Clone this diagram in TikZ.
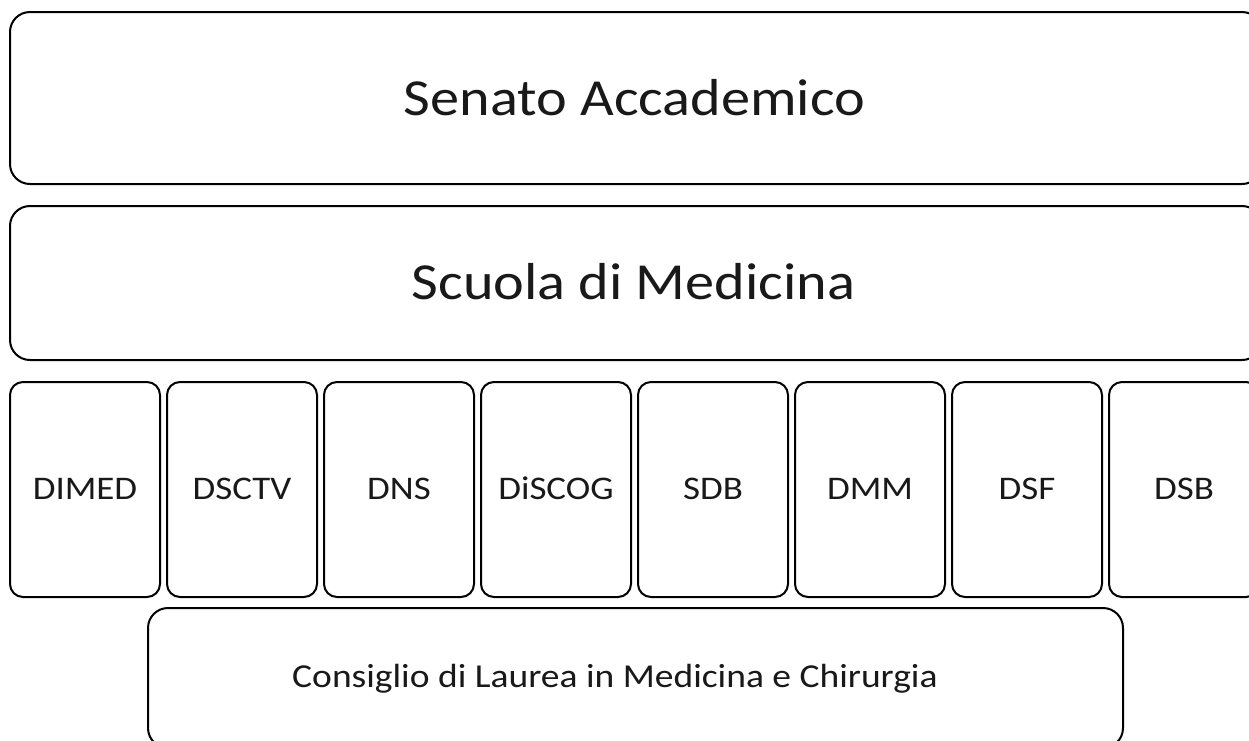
\documentclass[tikz,border=0pt]{standalone}
\usepackage{graphicx}
\usepackage{fontspec}
\setmainfont{Carlito}
\tikzset{
  bigbox/.style={draw=black, line width=2pt, rounded corners=20pt, fill=white, inner sep=0pt},
  deptbox/.style={draw=black, line width=2pt, rounded corners=13pt, fill=white, inner sep=0pt, minimum width=150pt, minimum height=215pt},
  txt/.style={inner sep=0pt, anchor=base, text=black!90}
}
\newcommand{\hs}[1]{\scalebox{1.12}[1]{#1}}
\begin{document}
\begin{tikzpicture}[x=1pt,y=-1pt]
\useasboundingbox (0,0) rectangle (1249,740);
\clip (0,0) rectangle (1249,740);
\fill[white] (0,0) rectangle (1249,740);
% top boxes
\node[bigbox, minimum width=1252pt, minimum height=172pt] (senato) at (636,98) {};
\node[txt, font=\fontsize{52}{60}\selectfont] (senatot) at (634.5,115) {\hs{Senato Accademico}};
\node[bigbox, minimum width=1252pt, minimum height=154pt] (scuola) at (636,283) {};
\node[txt, font=\fontsize{52}{60}\selectfont] (scuolat) at (633.5,299) {\hs{Scuola di Medicina}};
% departments
\foreach \n [count=\i from 0] in {DIMED,DSCTV,DNS,DiSCOG,SDB,DMM,DSF,DSB}{
  \node[deptbox] (d\i) at ({85+157*\i},489.5) {};
  \node[txt, font=\fontsize{33}{40}\selectfont] (d\i t) at ({85+157*\i},499) {\hs{\n}};
}
% bottom box
\node[bigbox, minimum width=975pt, minimum height=140pt] (cdl) at (635.5,678) {};
\node[txt, font=\fontsize{33.5}{40}\selectfont] (cdlt) at (615,687) {\hs{Consiglio di Laurea in Medicina e Chirurgia}};
\end{tikzpicture}
\end{document}
